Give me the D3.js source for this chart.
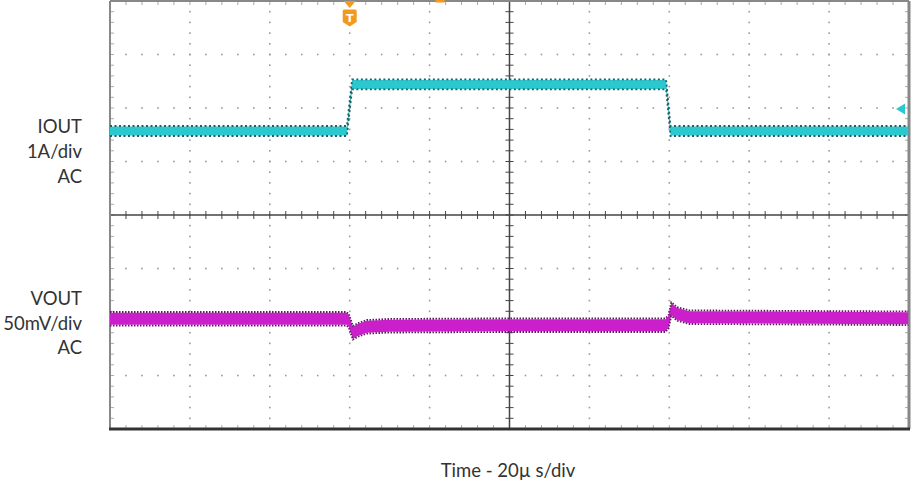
<!DOCTYPE html>
<html>
<head>
<meta charset="utf-8">
<script src="https://cdn.jsdelivr.net/npm/d3@7"></script>
<style>
  body { margin: 0; background: #fff; }
  svg { display: block; }
  .lbl { font-family: Lato, "Open Sans", sans-serif; font-size: 18.5px; fill: #333; }
</style>
</head>
<body>
<div id="scope"></div>
<script>
// time in microseconds (20 us/div), trace positions in screen divisions
var ioutTime = [0, 59.3, 60.6, 139.2, 140.3, 199.8];
var ioutDiv  = [1.57, 1.57, 2.44, 2.44, 1.57, 1.57];

var voutTime = [0, 59.2, 59.8, 60.8, 62, 64.3, 70, 97.5, 139, 139.8, 140.5, 142, 145, 199.8];
var voutDiv  = [-1.94, -1.94, -1.98, -2.2, -2.15, -2.09, -2.07, -2.06, -2.06, -2.0, -1.76, -1.85, -1.91, -1.93];

var ioutLabel = ['IOUT', '1A/div', 'AC'];
var voutLabel = ['VOUT', '50mV/div', 'AC'];
var timeLabel = 'Time - 20\u00b5 s/div';
var triggerTime = 60;
var ioutRefDiv = 1.98;

var width = 911, height = 483;

var svg = d3.select('#scope').append('svg')
    .attr('width', width)
    .attr('height', height);

var x = d3.scaleLinear().domain([0, 200]).range([110, 909]);
var y = d3.scaleLinear().domain([-4, 4]).range([429, 1]);

var minorX = d3.range(0, 200.01, 4);
var minorY = d3.range(-4, 4.001, 0.2);
var majorX = d3.range(20, 200, 20).filter(d => d !== 100);
var majorY = d3.range(-3, 4, 1).filter(d => d !== 0);

// dotted grid
var grid = svg.append('g').attr('fill', '#9a9a9a');
majorX.forEach(function (t) {
    grid.selectAll(null).data(minorY).enter().append('rect')
        .attr('x', x(t) - 0.8).attr('y', d => y(d) - 0.8)
        .attr('width', 1.6).attr('height', 1.6);
});
majorY.forEach(function (v) {
    grid.selectAll(null).data(minorX).enter().append('rect')
        .attr('x', d => x(d) - 0.8).attr('y', y(v) - 0.8)
        .attr('width', 1.6).attr('height', 1.6);
});

// border ticks
var bt = svg.append('g').attr('stroke', '#aaa').attr('stroke-width', 1);
bt.selectAll(null).data(minorX).enter().append('line')
    .attr('x1', d => x(d)).attr('x2', d => x(d)).attr('y1', y(4)).attr('y2', y(4) + 4);
bt.selectAll(null).data(minorX).enter().append('line')
    .attr('x1', d => x(d)).attr('x2', d => x(d)).attr('y1', y(-4)).attr('y2', y(-4) - 4);
bt.selectAll(null).data(minorY).enter().append('line')
    .attr('x1', x(0)).attr('x2', x(0) + 4).attr('y1', d => y(d)).attr('y2', d => y(d));
bt.selectAll(null).data(minorY).enter().append('line')
    .attr('x1', x(200)).attr('x2', x(200) - 4).attr('y1', d => y(d)).attr('y2', d => y(d));

// center axes with cross ticks
var ax = svg.append('g').attr('stroke', '#444');
ax.append('line').attr('x1', x(0)).attr('x2', x(200)).attr('y1', y(0)).attr('y2', y(0)).attr('stroke-width', 1.5);
ax.append('line').attr('x1', x(100)).attr('x2', x(100)).attr('y1', y(4)).attr('y2', y(-4)).attr('stroke-width', 1.5);
ax.selectAll(null).data(minorX).enter().append('line')
    .attr('x1', d => x(d)).attr('x2', d => x(d)).attr('y1', y(0) - 4).attr('y2', y(0) + 4);
ax.selectAll(null).data(minorY).enter().append('line')
    .attr('x1', x(100) - 4).attr('x2', x(100) + 4).attr('y1', d => y(d)).attr('y2', d => y(d));

// frame
svg.append('line').attr('x1', x(0)).attr('x2', x(200)).attr('y1', y(4)).attr('y2', y(4))
    .attr('stroke', '#888').attr('stroke-width', 2);
svg.append('line').attr('x1', x(0)).attr('x2', x(0)).attr('y1', y(4)).attr('y2', y(-4))
    .attr('stroke', '#888').attr('stroke-width', 2);
svg.append('line').attr('x1', x(200)).attr('x2', x(200)).attr('y1', y(4)).attr('y2', y(-4))
    .attr('stroke', '#888').attr('stroke-width', 3);
svg.append('line').attr('x1', x(0) - 1).attr('x2', x(200) + 1).attr('y1', y(-4)).attr('y2', y(-4))
    .attr('stroke', '#333').attr('stroke-width', 3);

// traces
function drawTrace(times, vals, half, edge, core, edgeColor, dash) {
    var pts = times.map((t, i) => [t, vals[i]]);
    var g = svg.append('g');
    g.append('path').datum(pts)
        .attr('d', d3.area().x(d => x(d[0])).y0(d => y(d[1]) + half).y1(d => y(d[1]) - half))
        .attr('fill', core);
    [edge, -edge].forEach(function (o) {
        g.append('path').datum(pts)
            .attr('d', d3.line().x(d => x(d[0])).y(d => y(d[1]) + o))
            .attr('fill', 'none').attr('stroke', edgeColor)
            .attr('stroke-width', 1.8).attr('stroke-dasharray', dash);
    });
}
drawTrace(ioutTime, ioutDiv, 4.5, 5, '#2cc8cf', '#1f5f66', '2,2.5');
drawTrace(voutTime, voutDiv, 6, 6.8, '#cc1fcc', '#5e1a5e', '1.5,1.5');

// trigger marker
var tx = x(triggerTime);
svg.append('path').attr('d', `M${tx - 6},1L${tx + 6},1L${tx},8Z`).attr('fill', '#f39a1e');
svg.append('path').attr('d', `M${tx - 7},11Q${tx - 7},9.5 ${tx - 5.5},9.5H${tx + 5.5}Q${tx + 7},9.5 ${tx + 7},11V22L${tx},26.5L${tx - 7},22Z`)
    .attr('fill', '#f39a1e');
svg.append('text').attr('x', tx).attr('y', 21.5).attr('text-anchor', 'middle')
    .attr('font-family', 'DejaVu Sans, sans-serif').attr('font-weight', 'bold')
    .attr('font-size', 11).attr('fill', '#fff').text('T');
svg.append('rect').attr('x', x(81.5)).attr('y', 0).attr('width', 9).attr('height', 2.5).attr('fill', '#f39a1e');

// channel reference arrow
var ry = y(ioutRefDiv);
svg.append('path').attr('d', `M${x(200) - 13},${ry}L${x(200) - 4},${ry - 5.5}L${x(200) - 4},${ry + 5.5}Z`)
    .attr('fill', '#2cc8cf');

// labels
ioutLabel.forEach(function (s, i) {
    svg.append('text').attr('class', 'lbl').attr('x', 82).attr('y', 133 + i * 25)
        .attr('text-anchor', 'end').text(s);
});
voutLabel.forEach(function (s, i) {
    svg.append('text').attr('class', 'lbl').attr('x', 82).attr('y', 305 + i * 24.5)
        .attr('text-anchor', 'end').text(s);
});
svg.append('text').attr('class', 'lbl').attr('x', 508).attr('y', 476.5)
    .attr('text-anchor', 'middle').text(timeLabel);
</script>
</body>
</html>
